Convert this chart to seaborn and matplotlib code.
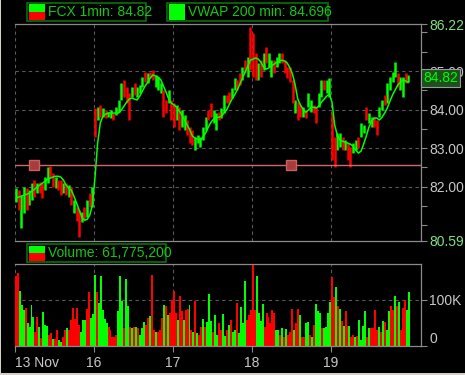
import numpy as np
import pandas as pd
import matplotlib
matplotlib.use("Agg")
import matplotlib.pyplot as plt
from matplotlib.patches import Rectangle
import matplotlib.transforms as mtransforms
import seaborn as sns

# ---- data ----
day_labels = ["13 Nov", "16", "17", "18", "19"]
bars_per_day = 30
vol_per_day = 40

# 1min price bars, resampled: low / high per bar, one line per day
bar_lo = [81.60, 81.39, 80.92, 81.31, 81.39, 81.52, 81.65, 81.73, 81.83, 81.83, 81.70, 81.91, 82.09, 82.25, 81.99,
          81.96, 81.91, 81.78, 81.83, 81.78, 81.73, 81.52, 81.31, 81.11, 80.69, 81.08, 81.13, 81.21, 81.47, 81.47,
          83.29, 83.73, 83.80, 83.80, 83.78, 83.80, 83.78, 83.73, 83.86, 83.93, 84.25, 84.32, 84.17, 83.73, 84.32,
          84.38, 84.32, 84.43, 84.58, 84.71, 84.69, 84.82, 84.77, 84.58, 84.51, 84.43, 83.80, 83.91, 84.17, 83.73,
          83.54, 83.73, 83.47, 83.54, 83.47, 83.34, 83.13, 83.08, 82.95, 83.13, 83.03, 83.21, 83.47, 83.73, 83.80,
          83.65, 83.47, 83.73, 83.78, 83.91, 84.17, 84.19, 84.30, 84.51, 84.51, 84.64, 84.77, 84.95, 84.84, 85.03,
          84.84, 84.77, 84.77, 84.84, 85.03, 85.21, 85.10, 84.84, 84.95, 85.10, 85.21, 85.21, 84.95, 84.82, 84.71,
          84.17, 83.91, 83.73, 83.80, 83.80, 83.78, 84.06, 83.93, 83.91, 83.65, 84.06, 84.32, 84.51, 84.43, 84.32,
          82.69, 82.51, 82.95, 83.03, 82.95, 82.95, 82.69, 82.51, 82.87, 82.95, 83.00, 83.29, 83.39, 83.73, 83.65,
          83.54, 83.54, 83.34, 83.80, 83.99, 84.12, 84.17, 84.51, 84.71, 84.84, 84.58, 84.51, 84.32, 84.69, 84.71]
bar_hi = [81.96, 81.91, 81.78, 81.99, 81.96, 81.91, 82.09, 82.17, 82.09, 82.12, 82.09, 82.25, 82.51, 82.53, 82.35,
          82.25, 82.17, 82.17, 82.09, 82.09, 82.04, 81.99, 81.65, 81.47, 81.39, 81.34, 81.47, 81.65, 81.83, 81.99,
          84.04, 84.06, 84.12, 84.04, 83.99, 83.93, 83.99, 83.91, 84.06, 84.25, 84.69, 84.77, 84.58, 84.43, 84.58,
          84.69, 84.58, 84.64, 84.84, 84.97, 84.95, 84.97, 85.03, 84.90, 84.84, 84.69, 84.51, 84.25, 84.51, 84.25,
          84.17, 84.12, 84.06, 83.99, 83.86, 83.73, 83.54, 83.47, 83.29, 83.34, 83.29, 83.54, 83.80, 83.99, 84.17,
          83.99, 83.91, 83.93, 84.04, 84.38, 84.38, 84.45, 84.56, 84.82, 84.77, 84.95, 85.10, 85.29, 85.36, 86.14,
          85.99, 85.47, 85.21, 85.29, 85.47, 85.62, 85.47, 85.29, 85.29, 85.36, 85.47, 85.47, 85.29, 85.10, 85.10,
          84.77, 84.25, 84.19, 84.12, 84.06, 83.99, 84.43, 84.25, 84.12, 84.06, 84.43, 84.77, 84.77, 84.77, 84.82,
          83.91, 83.29, 83.39, 83.39, 83.29, 83.21, 83.13, 83.03, 83.13, 83.21, 83.29, 83.65, 83.60, 84.06, 83.91,
          83.80, 83.80, 83.73, 84.06, 84.25, 84.38, 84.69, 84.84, 84.97, 85.23, 84.95, 84.84, 84.84, 84.95, 84.90]
bar_dir = ("GRGGRGGRGR" "RGGRRGRRGR" "GRGRRGRGRG"
           "RGRGRGGRGG" "GRRRGRGGGR" "GRRGGGRRGR"
           "RGRGGRRRGG" "GGGRRGGRGG" "RRGGRRGRGR"
           "RRGRGRGGRG" "GRRRRRGRRG" "RGGRRGGRGG"
           "RRGGRGRRGG" "RGGRGGRRGG" "RGGGGRGGRG")

# VWAP 200 min, same bar positions
vwap = [81.70, 81.73, 81.75, 81.78, 81.80, 81.83, 81.88, 81.93, 81.99, 82.04, 82.09, 82.14, 82.19, 82.22, 82.25,
        82.27, 82.27, 82.25, 82.17, 82.04, 81.96, 81.91, 81.75, 81.57, 81.39, 81.21, 81.13, 81.15, 81.26, 81.52,
        82.25, 83.13, 83.65, 83.83, 83.88, 83.91, 83.91, 83.91, 83.91, 83.91, 83.99, 84.09, 84.19, 84.27, 84.30,
        84.27, 84.25, 84.35, 84.48, 84.61, 84.71, 84.82, 84.90, 84.87, 84.84, 84.77, 84.61, 84.45, 84.27, 84.17,
        84.12, 84.06, 83.96, 83.86, 83.73, 83.60, 83.47, 83.31, 83.26, 83.23, 83.21, 83.29, 83.39, 83.54, 83.67,
        83.75, 83.80, 83.80, 83.83, 83.91, 83.99, 84.14, 84.27, 84.38, 84.51, 84.66, 84.82, 84.97, 85.13, 85.28,
        85.31, 85.34, 85.31, 85.23, 85.10, 85.05, 85.08, 85.13, 85.18, 85.23, 85.26, 85.28, 85.26, 85.21, 85.08,
        84.92, 84.64, 84.27, 84.12, 84.01, 83.93, 83.99, 84.06, 84.06, 84.04, 84.09, 84.19, 84.27, 84.35, 84.40,
        84.19, 83.60, 83.34, 83.21, 83.18, 83.15, 83.13, 83.10, 83.05, 82.95, 82.87, 82.92, 83.10, 83.31, 83.54,
        83.70, 83.78, 83.78, 83.73, 83.80, 83.91, 84.04, 84.22, 84.38, 84.51, 84.64, 84.71, 84.77, 84.74, 84.70]

# volume in thousands
volume_k = [153, 158, 120, 90, 79, 82, 50, 42, 90, 64, 31, 64, 42, 17, 73, 46, 44, 24, 28, 15,
            15, 34, 13, 9, 20, 34, 39, 35, 57, 82, 58, 82, 46, 31, 57, 57, 80, 118, 60, 70,
            155, 118, 93, 153, 79, 58, 50, 42, 34, 20, 19, 24, 75, 153, 97, 39, 145, 86, 42, 39,
            42, 42, 40, 24, 39, 53, 46, 61, 66, 155, 35, 31, 31, 35, 61, 88, 86, 68, 72, 100,
            119, 72, 57, 109, 75, 57, 79, 80, 90, 35, 31, 97, 28, 24, 42, 58, 42, 53, 112, 55,
            31, 68, 24, 50, 35, 70, 22, 35, 46, 57, 31, 34, 93, 28, 85, 50, 142, 57, 68, 79,
            180, 79, 152, 72, 55, 92, 42, 72, 64, 51, 79, 72, 35, 34, 24, 39, 19, 36, 24, 31,
            80, 35, 50, 80, 68, 20, 19, 50, 53, 24, 19, 46, 92, 77, 72, 39, 39, 42, 72, 95,
            150, 107, 128, 86, 80, 55, 44, 75, 44, 44, 20, 24, 19, 22, 57, 13, 44, 77, 20, 39,
            39, 39, 79, 34, 42, 31, 55, 53, 35, 77, 86, 79, 109, 86, 95, 35, 82, 100, 79, 117]
vol_dir = ("RRGGGRGGGG" "RRGRGGGRRG" "RRGGRRGRRR" "RRRGGGRRGG"
           "GRGGGGGRRR" "RRGGGRGGRG" "RGRGGGRRGR" "RGRRRGRGRR"
           "RRGRRGRRGR" "GRGRRGRGGG" "RGGRRGGRGR" "GGRGGGGRRR"
           "RRGGGGRRRR" "RRGGRGRGRR" "RGRRGRRGGR" "GRGGGRGGGG"
           "RRGRGRGRRG" "RRGRGGGGRG" "RRRRGRGRGG" "RRGRGRRRGG")

last_price = 84.82
vwap_last = 84.696
total_volume = 61775200
hline_level = 82.56
hline_anchors = [0.24, 3.50]
price_grid = [82, 83, 84, 85]
price_labels = [80.59, 82, 83, 84, 85, 86.22]
price_minor = [81, 81.5, 82.5, 83.5, 84.5, 85.5, 86]

# ---- frames ----
df = pd.DataFrame({"lo": bar_lo, "hi": bar_hi, "dir": list(bar_dir), "vwap": vwap})
df["x"] = [i // bars_per_day + (i % bars_per_day + 0.5) / bars_per_day for i in range(len(df))]
vol = pd.DataFrame({"v": volume_k, "dir": list(vol_dir)})
vol["x"] = [i // vol_per_day + (i % vol_per_day + 0.5) / vol_per_day for i in range(len(vol))]

GREEN, RED = "#00ff00", "#ff0000"
GRID, SPINE, TXT = "#5a5a5a", "#8a8a8a", "#c8c8c8"
LEG_TXT, LEG_EDGE = "#14c814", "#0a700a"

sns.set_theme(style="dark", rc={"figure.facecolor": "black", "axes.facecolor": "black",
                                "savefig.facecolor": "black"})
plt.rcParams["font.family"] = ["Liberation Sans", "DejaVu Sans"]

W, H = 465, 375
fig = plt.figure(figsize=(W / 100, H / 100), dpi=100)
ax = fig.add_axes([14.7 / W, 1 - 241 / H, 406 / W, 217 / H])
axv = fig.add_axes([14.7 / W, 1 - 346 / H, 406 / W, 82 / H])

xmax = 406 / 79
dash = dict(color=GRID, lw=0.8, ls=(0, (3, 3)), zorder=0)

# price panel
for lvl in price_grid:
    ax.axhline(lvl, **dash)
for d in range(len(day_labels)):
    ax.axvline(d, **dash)
    axv.axvline(d, **dash)

for key, col in [("G", GREEN), ("R", RED)]:
    sub = df[df["dir"] == key]
    ax.vlines(sub["x"], sub["lo"], sub["hi"], color=col, lw=1.8, zorder=2)
sns.lineplot(data=df, x="x", y="vwap", ax=ax, color=GREEN, lw=1.1, zorder=3)

ax.axhline(hline_level, color="#d06a6a", lw=1.0, zorder=4)
ax.plot(hline_anchors, [hline_level] * len(hline_anchors), ls="none", marker="s", ms=6.5,
        mfc="#a83c3c", mec="#c86060", zorder=5)

ax.set_xlim(0, xmax)
ax.set_ylim(price_labels[0], price_labels[-1])
ax.set_xlabel("")
ax.set_ylabel("")
ax.set_xticks([])
ax.yaxis.tick_right()
ax.set_yticks(price_labels)
ax.set_yticklabels([f"{v:.2f}" for v in price_labels])
ax.set_yticks(price_minor, minor=True)
ax.tick_params(axis="y", which="both", direction="out", length=4, width=0.8, color=SPINE,
               labelcolor=TXT, labelsize=10, pad=2, right=True, left=False)
for lab in [ax.get_yticklabels()[0], ax.get_yticklabels()[-1]]:
    lab.set_color("#80e080")

# current price tag (covers the 85.00 label, as in the terminal)
tag_tf = mtransforms.blended_transform_factory(ax.transAxes, ax.transData)
ax.text(1.006, last_price, f"{last_price:.2f}", transform=tag_tf, ha="left", va="center",
        color=GREEN, fontsize=10, zorder=10, clip_on=False,
        bbox=dict(boxstyle="square,pad=0.15", fc="#1c501c", ec="#9a9a9a", lw=0.8))

# volume panel
axv.axhline(100, **dash)
colors = vol["dir"].map({"G": GREEN, "R": RED})
axv.bar(vol["x"], vol["v"], width=1.0 / vol_per_day, color=colors, lw=0, zorder=2,
        antialiased=False)
axv.set_xlim(0, xmax)
axv.set_ylim(0, 178)
axv.yaxis.tick_right()
axv.set_yticks([0, 100])
axv.set_yticklabels(["0", "100K"])
axv.get_yticklabels()[0].set_verticalalignment("bottom")
axv.set_xticks(range(len(day_labels)))
axv.set_xticklabels(day_labels)
axv.get_xticklabels()[0].set_horizontalalignment("left")
axv.tick_params(axis="y", direction="out", length=4, width=0.8, color=SPINE,
                labelcolor=TXT, labelsize=10, pad=2, right=True, left=False)
axv.tick_params(axis="x", direction="out", length=4, width=0.8, color=SPINE,
                labelcolor=TXT, labelsize=10, pad=3, bottom=True)

for a in (ax, axv):
    a.grid(False)
    for side in ("top", "bottom", "right"):
        a.spines[side].set_visible(True)
        a.spines[side].set_color(SPINE)
        a.spines[side].set_linewidth(0.9)
    a.spines["left"].set_visible(False)


# legend boxes in pixel coordinates
def legend_box(x0, y0, x1, y1, label, two_tone):
    fig.patches.append(Rectangle((x0 / W, 1 - y1 / H), (x1 - x0) / W, (y1 - y0) / H,
                                 transform=fig.transFigure, fill=False, ec=LEG_EDGE, lw=1.2))
    sx0, sx1, sy0, sy1 = x0 + 2, x0 + 18, y0 + 1.5, y1 - 1.5
    if two_tone:
        mid = (sy0 + sy1) / 2
        parts = [(sy0, mid, GREEN), (mid, sy1, RED)]
    else:
        parts = [(sy0, sy1, GREEN)]
    for a0, a1, c in parts:
        fig.patches.append(Rectangle((sx0 / W, 1 - a1 / H), (sx1 - sx0) / W, (a1 - a0) / H,
                                     transform=fig.transFigure, fc=c, ec="none"))
    fig.text((x0 + 21) / W, 1 - (y0 + y1) / 2 / H, label, ha="left", va="center",
             color=LEG_TXT, fontsize=10)


legend_box(27, 3, 146, 21, f"FCX 1min: {last_price:.2f}", True)
legend_box(167, 3, 328, 21, f"VWAP 200 min: {vwap_last}", False)
legend_box(27, 244, 166, 262, f"Volume: {total_volume:,}", True)

# window frame edges
fig.patches.append(Rectangle((0, 0), 1.2 / W, 1, transform=fig.transFigure, fc="#d4d0c8", ec="none"))
fig.patches.append(Rectangle((0, 0), 1, 2 / H, transform=fig.transFigure, fc="#d4d0c8", ec="none"))

fig.savefig("out.png", dpi=100)
